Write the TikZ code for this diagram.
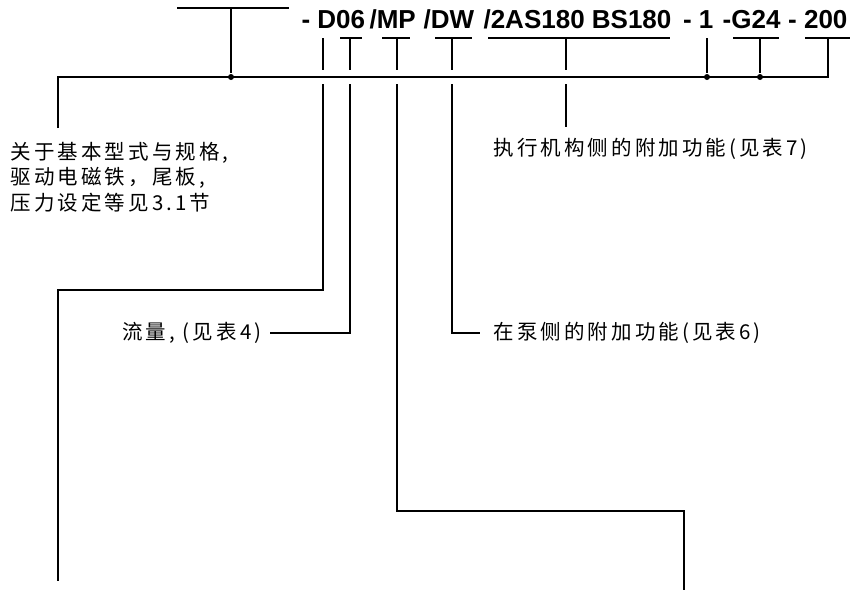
\documentclass[tikz,border=0pt]{standalone}
\usepackage{fontspec}
\setmainfont{Liberation Sans}
\newfontfamily\cjk[LetterSpace=15.0]{Noto Sans CJK SC}
\usetikzlibrary{positioning}

\begin{document}
\begin{tikzpicture}[x=1pt,y=-1pt,line width=1.1pt,
  codigo/.style={font=\fontsize{26}{30}\selectfont\bfseries,inner sep=0pt},
  nota/.style={font=\cjk\fontsize{20.5}{25.5}\selectfont,inner sep=0pt,align=left},
  punto/.style={circle,fill,inner sep=0pt,minimum size=6pt}]
  \useasboundingbox (0,0) rectangle (850,590);
  % type code
  \node[codigo,anchor=base west] (c1) at (301,28) {- D06};
  \node[codigo,anchor=base west] (c2) at (369,28) {/MP};
  \node[codigo,anchor=base west] (c3) at (423,28) {/DW};
  \node[codigo,anchor=base west] (c4) at (483,28) {/2AS180 BS180};
  \node[codigo,anchor=base east] (c5) at (714,28) {- 1};
  \node[codigo,anchor=base east] (c6) at (781,28) {-G24};
  \node[codigo,anchor=base east] (c7) at (848,28) {- 200};
  % notes
  \node[nota,anchor=west] (base) at (10,177)
    {关于基本型式与规格,\\驱动电磁铁，尾板,\\压力设定等见3.1节};
  \node[nota,anchor=west] (actuador) at (493,149) {执行机构侧的附加功能(见表7)};
  \node[nota,anchor=east] (flujo) at (262,333) {流量, (见表4)};
  \node[nota,anchor=west] (bomba) at (493,333) {在泵侧的附加功能(见表6)};
  % main line
  \coordinate (ml) at (58,77);
  \coordinate (mr) at (828,77);
  \node[punto] (p0) at (231,77) {};
  \node[punto] (p1) at (707,77) {};
  \node[punto] (p2) at (760,77) {};
  \draw (58,128) -- (ml) -- (mr) -- (828,38);
  \draw (805,38) -- (850,38);
  \draw (177,8) -- (289,8);
  \draw (231,8) -- (p0);
  \draw (707,38) -- (p1);
  \draw (733,38) -- (779,38);
  \draw (760,38) -- (p2);
  % short ticks
  \draw (323,38) -- (323,70);
  \foreach \x/\a/\b in {350/340/362,397/382/410,452/435/472,566/488/670}{
    \draw (\a,38) -- (\b,38);
    \draw (\x,38) -- (\x,70);
  }
  % leaders
  \draw (323,84) -- (323,290) -| (58,581);
  \draw (350,84) |- ([xshift=8pt]flujo.east);
  \draw (397,84) -- (397,511) -| (684,590);
  \draw (452,84) |- ([xshift=-13pt]bomba.west);
  \draw (566,84) -- (566,127);
\end{tikzpicture}
\end{document}
